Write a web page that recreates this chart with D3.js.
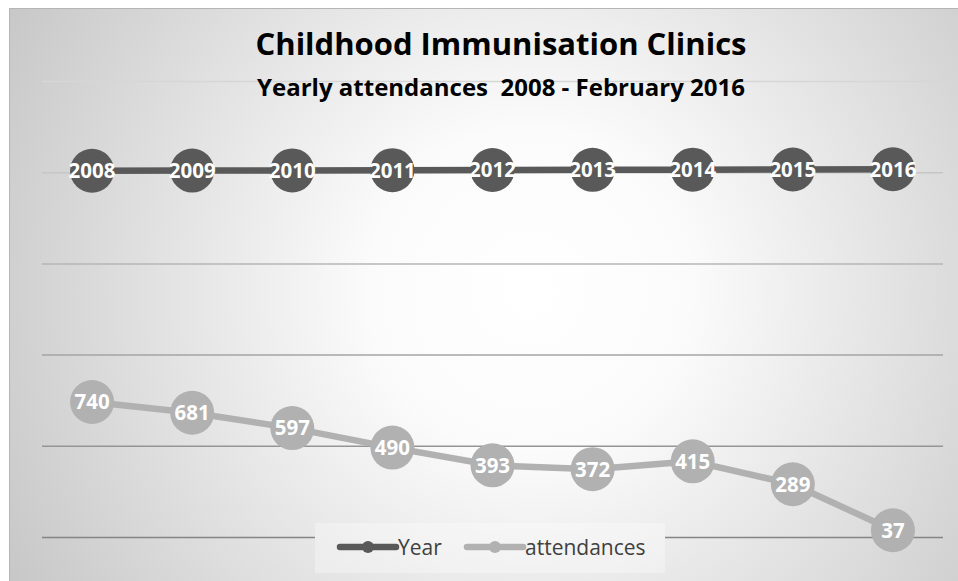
<!DOCTYPE html>
<html>
<head>
<meta charset="utf-8">
<script src="https://cdn.jsdelivr.net/npm/d3@7"></script>
<style>
  body { margin: 0; background: #fff; }
  svg { display: block; font-family: 'Open Sans', 'DejaVu Sans', sans-serif; }
</style>
</head>
<body>
<div id="chart"></div>
<script>
// ------------------------------------------------------------- Data
var categories  = ['2008', '2009', '2010', '2011', '2012', '2013', '2014', '2015', '2016'];
var yearValues  = [2008, 2009, 2010, 2011, 2012, 2013, 2014, 2015, 2016];
var attendances = [740, 681, 597, 490, 393, 372, 415, 289, 37];
var yTicks      = [0, 500, 1000, 1500, 2000, 2500];
var seriesNames = ['Year', 'attendances'];
// ------------------------------------------------------------ /Data

var width = 958,
    height = 581;

var plot = {left: 42, right: 943, top: 81, bottom: 537};

var colors = {Year: '#595959', attendances: '#b1b1b1'};

var svg = d3.select('#chart').append('svg')
    .attr('width', width)
    .attr('height', height);

var defs = svg.append('defs');

var bg = defs.append('radialGradient')
    .attr('id', 'bg')
    .attr('gradientUnits', 'userSpaceOnUse')
    .attr('cx', 530).attr('cy', 290).attr('r', 640);
bg.append('stop').attr('offset', '0').attr('stop-color', '#ffffff');
bg.append('stop').attr('offset', '0.25').attr('stop-color', '#fbfbfb');
bg.append('stop').attr('offset', '1').attr('stop-color', '#c2c2c2');

// chart area
svg.append('rect')
    .attr('x', 9.5).attr('y', 8.5)
    .attr('width', width - 9).attr('height', height - 8)
    .attr('fill', 'url(#bg)')
    .attr('stroke', '#b5b5b5');

var x = d3.scaleBand()
    .domain(categories)
    .range([plot.left, plot.right]);

var y = d3.scaleLinear()
    .domain([0, 2500])
    .range([plot.bottom, plot.top]);

var gridColor = d3.scaleLinear()
    .domain([0, 2500])
    .range(['#858585', '#d6d6d6']);

var cx = function(d, i) { return x(categories[i]) + x.bandwidth() / 2; };

// gridlines
var yAxis = d3.axisLeft(y)
    .tickValues(yTicks)
    .tickSize(-(plot.right - plot.left))
    .tickFormat('');

var grid = svg.append('g')
    .attr('transform', 'translate(' + plot.left + ',0)')
    .call(yAxis);
grid.select('.domain').remove();
grid.selectAll('.tick line')
    .attr('stroke', function(d) { return gridColor(d); })
    .attr('stroke-width', 1.5);

// titles
svg.append('text')
    .attr('x', 501).attr('y', 55)
    .attr('text-anchor', 'middle')
    .attr('font-size', 31)
    .attr('font-weight', 'bold')
    .attr('fill', '#000')
    .text('Childhood Immunisation Clinics');

svg.append('text')
    .attr('x', 501).attr('y', 96)
    .attr('text-anchor', 'middle')
    .attr('font-size', 24)
    .attr('font-weight', 'bold')
    .attr('fill', '#000')
    .attr('xml:space', 'preserve')
    .text('Yearly attendances  2008 - February 2016');

// series
var series = [
  {name: seriesNames[0], values: yearValues},
  {name: seriesNames[1], values: attendances}
];

var line = d3.line()
    .x(cx)
    .y(function(d) { return y(d); });

series.forEach(function(s) {
  var g = svg.append('g').attr('class', 'series');

  g.append('path')
      .datum(s.values)
      .attr('d', line)
      .attr('fill', 'none')
      .attr('stroke', colors[s.name])
      .attr('stroke-width', 6.5)
      .attr('stroke-linejoin', 'round');

  g.selectAll('circle')
      .data(s.values)
    .enter().append('circle')
      .attr('cx', cx)
      .attr('cy', function(d) { return y(d); })
      .attr('r', 22)
      .attr('fill', colors[s.name]);

  g.selectAll('text')
      .data(s.values)
    .enter().append('text')
      .attr('x', cx)
      .attr('y', function(d) { return y(d); })
      .attr('dy', '0.36em')
      .attr('text-anchor', 'middle')
      .attr('font-size', 20.5)
      .attr('font-weight', 'bold')
      .attr('fill', '#fff')
      .text(function(d) { return d; });
});

// legend
var bgLegend = svg.append('g');
bgLegend.append('rect')
    .attr('x', 315).attr('y', 523)
    .attr('width', 350).attr('height', 50)
    .attr('fill', 'url(#bg)');
bgLegend.append('rect')
    .attr('x', 315).attr('y', 523)
    .attr('width', 350).attr('height', 50)
    .attr('fill', '#fff')
    .attr('opacity', 0.3);

var legendX = [340, 467];
var legend = svg.selectAll('.legend')
    .data(seriesNames)
  .enter().append('g')
    .attr('class', 'legend')
    .attr('transform', function(d, i) { return 'translate(' + legendX[i] + ',547)'; });

legend.append('line')
    .attr('x1', 0).attr('x2', 56)
    .attr('stroke', function(d) { return colors[d]; })
    .attr('stroke-width', 6.5)
    .attr('stroke-linecap', 'round');

legend.append('circle')
    .attr('cx', 28)
    .attr('r', 6)
    .attr('fill', function(d) { return colors[d]; });

legend.append('text')
    .attr('x', 58)
    .attr('dy', '0.36em')
    .attr('font-size', 21)
    .attr('fill', '#404040')
    .text(function(d) { return d; });
</script>
</body>
</html>
